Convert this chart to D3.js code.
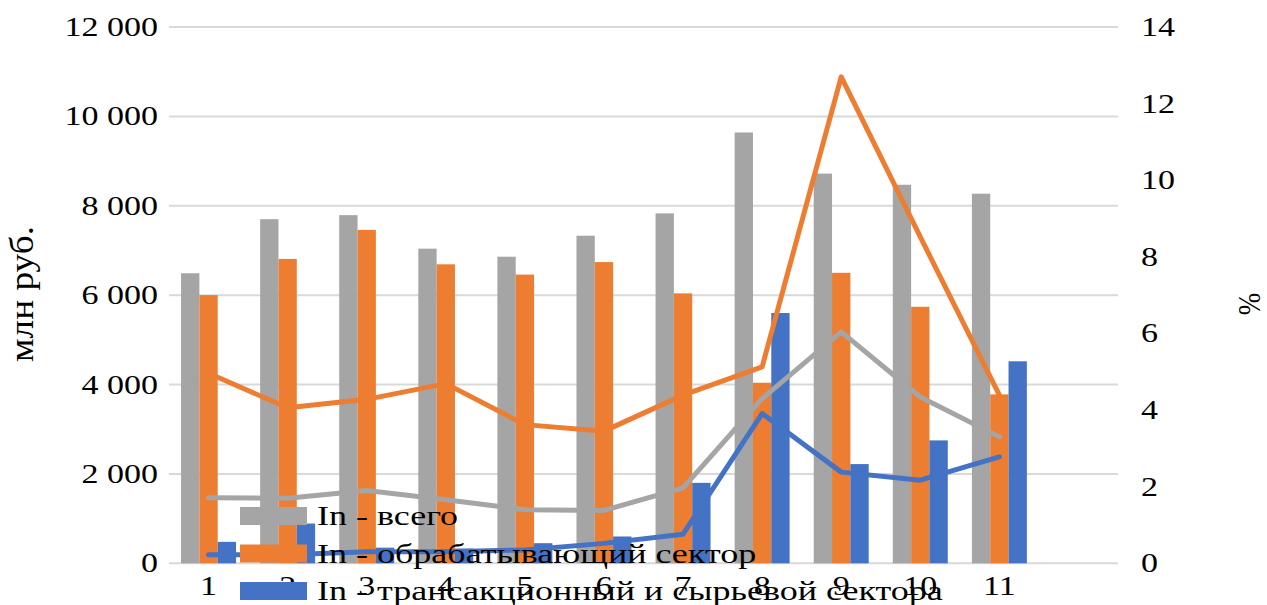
<!DOCTYPE html>
<html><head><meta charset="utf-8">
<script src="https://cdn.jsdelivr.net/npm/d3@7"></script>
<style>body{margin:0;background:#fff}svg{display:block}text{font-family:"Liberation Serif","Times New Roman",serif;fill:#000}</style>
</head><body><svg id="c" width="1267" height="605"></svg>
<script>
const categories = ["1","2","3","4","5","6","7","8","9","10","11"];
const seriesNames = ["In - всего","In - обрабатывающий сектор","In - трансакционный и сырьевой сектора"];
const barTotal = [6490, 7700, 7790, 7040, 6860, 7330, 7830, 9640, 8720, 8470, 8270];
const barManuf = [6000, 6810, 7460, 6690, 6460, 6740, 6040, 4040, 6500, 5740, 3780];
const barTrans = [480, 890, 350, 330, 450, 600, 1800, 5600, 2220, 2750, 4520];
const pctTotal = [1.71, 1.70, 1.90, 1.66, 1.40, 1.38, 1.97, 4.30, 6.04, 4.34, 3.30];
const pctManuf = [4.96, 4.06, 4.28, 4.69, 3.62, 3.45, 4.39, 5.13, 12.70, 8.52, 4.39];
const pctTrans = [0.22, 0.22, 0.30, 0.30, 0.35, 0.52, 0.76, 3.91, 2.38, 2.17, 2.78];
const leftTicks = [0, 2000, 4000, 6000, 8000, 10000, 12000];
const rightTicks = [0, 2, 4, 6, 8, 10, 12, 14];
const leftTitle = "млн руб.";
const rightTitle = "%";

const colors = ["#A5A5A5", "#ED7D31", "#4472C4"];
const FS = 27;
const svg = d3.select("#c");
const L = 169, R = 1118, T = 27, B = 563.3;

// extra empty slot at the end as in the original category range
const x = d3.scaleBand().domain(categories.concat(["_"])).range([L, R]).padding(0);
const yL = d3.scaleLinear().domain([0, 12000]).range([B, T]);
const yR = d3.scaleLinear().domain([0, 14]).range([B, T]);
const groupW = x.bandwidth() * 0.695;
const xs = d3.scaleBand().domain([0,1,2]).range([-groupW/2, groupW/2]).padding(0);
const fmt = d3.formatLocale({decimal:",", thousands:" ", grouping:[3], currency:["",""]}).format(",d");

function stext(g, x0, y0, str, anchor, sx, sy, rot) {
  return g.append("text")
    .attr("transform", `translate(${x0},${y0}) scale(${sx},${sy})` + (rot ? ` rotate(${rot})` : ""))
    .attr("text-anchor", anchor).attr("font-size", FS).text(str);
}

// gridlines
const grid = svg.append("g");
grid.selectAll("line").data(leftTicks).join("line")
  .attr("x1", L).attr("x2", R).attr("y1", d => yL(d)).attr("y2", d => yL(d))
  .attr("stroke", "#d9d9d9").attr("stroke-width", 2);

// axis labels
const ax = svg.append("g");
leftTicks.forEach(t => stext(ax, 158, yL(t) + 9, fmt(t), "end", 1.26, 1));
rightTicks.forEach(t => stext(ax, 1141, yR(t) + 9, String(t), "start", 1.26, 1));
categories.forEach(c => stext(ax, x(c) + x.bandwidth()/2, 595, c, "middle", 1.26, 1));
stext(ax, 33, 294, leftTitle, "middle", 1.26, 1.38, -90);
stext(ax, 1260, 304, rightTitle, "middle", 1.2, 1, -90);

// bars
const barSeries = [barTotal, barManuf, barTrans];
const bars = svg.append("g");
barSeries.forEach((vals, si) => {
  bars.append("g").attr("fill", colors[si]).selectAll("rect").data(vals).join("rect")
    .attr("x", (d, i) => x(categories[i]) + x.bandwidth()/2 + xs(si))
    .attr("width", xs.bandwidth())
    .attr("y", d => yL(d)).attr("height", d => B - yL(d));
});

// lines
const lineSeries = [pctTotal, pctManuf, pctTrans];
const line = d3.line().x((d, i) => x(categories[i]) + x.bandwidth()/2).y(d => yR(d));
const lines = svg.append("g");
lineSeries.forEach((vals, si) => {
  lines.append("path").datum(vals).attr("d", line).attr("fill", "none")
    .attr("stroke", colors[si]).attr("stroke-width", 5)
    .attr("stroke-linejoin", "round").attr("stroke-linecap", "round");
});

// legend
const lg = svg.append("g");
seriesNames.forEach((n, i) => {
  const yy = 507 + i * 37.5;
  lg.append("rect").attr("x", 240).attr("y", yy).attr("width", 67).attr("height", 18).attr("fill", colors[i]);
  stext(lg, 317, yy + 18, n, "start", 1.335, 1);
});
</script></body></html>
